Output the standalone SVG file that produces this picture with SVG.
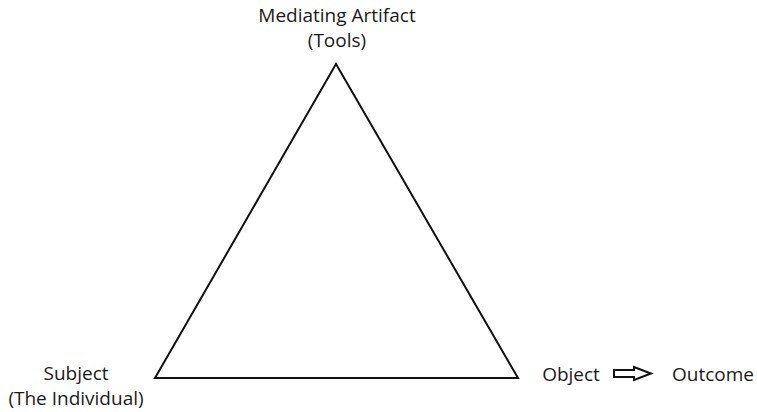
<svg xmlns="http://www.w3.org/2000/svg" width="757" height="412" viewBox="0 0 757 412">
<style>
text{font-family:"Open Sans","Noto Sans",sans-serif;font-size:19px;fill:#1a1a1a;text-anchor:middle}
.ln{fill:none;stroke:#111;stroke-width:2}
</style>
<rect width="757" height="412" fill="#fff"/>
<g id="connectors">
<polygon class="ln" points="336,64 155,378 518,378"/>
<polygon id="arrow" class="ln" stroke-width="1.6" points="614,370 634,370 634,367 651,373.5 634,380 634,377 614,377"/>
</g>
<g id="tools"><text x="337" y="22">Mediating Artifact</text><text x="337" y="47">(Tools)</text></g>
<g id="subject"><text x="76" y="380">Subject</text><text x="76" y="405">(The Individual)</text></g>
<g id="object"><text x="571" y="381">Object</text></g>
<g id="outcome"><text x="713" y="381">Outcome</text></g>
</svg>
